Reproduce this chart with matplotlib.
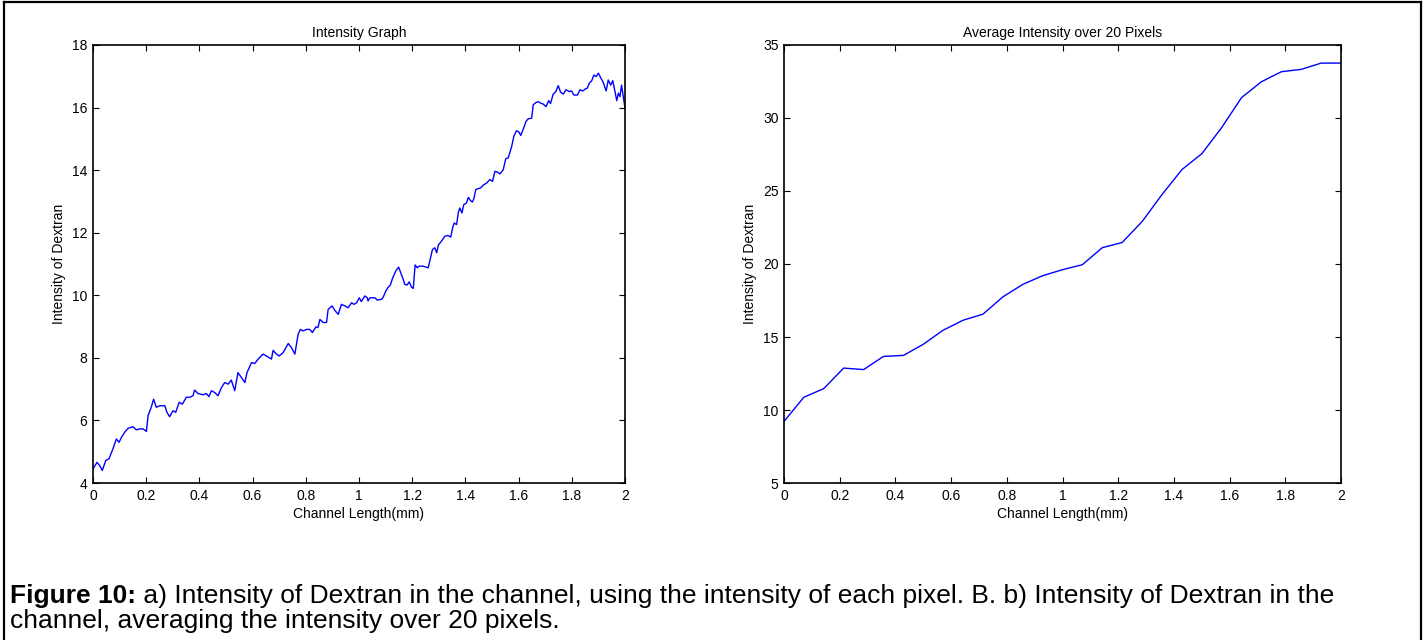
import matplotlib

matplotlib.use("Agg")
import matplotlib.pyplot as plt
from matplotlib.lines import Line2D
from matplotlib.ticker import FuncFormatter
from matplotlib.transforms import offset_copy

plt.rcParams["font.family"] = ["Liberation Sans", "DejaVu Sans"]

# (a) intensity of each pixel
pixel_x = [
    0.000, 0.015, 0.025, 0.035, 0.048, 0.060, 0.075, 0.088, 0.098, 0.107,
    0.119, 0.132, 0.144, 0.150, 0.163, 0.176, 0.188, 0.201, 0.207, 0.219,
    0.228, 0.238, 0.251, 0.270, 0.278, 0.288, 0.301, 0.311, 0.324, 0.336,
    0.351, 0.364, 0.376, 0.382, 0.395, 0.414, 0.426, 0.436, 0.445, 0.458,
    0.470, 0.483, 0.495, 0.508, 0.520, 0.533, 0.545, 0.558, 0.571, 0.579,
    0.596, 0.608, 0.621, 0.639, 0.652, 0.671, 0.677, 0.690, 0.700, 0.715,
    0.734, 0.746, 0.759, 0.771, 0.780, 0.790, 0.803, 0.815, 0.825, 0.838,
    0.846, 0.853, 0.865, 0.878, 0.884, 0.899, 0.909, 0.922, 0.934, 0.947,
    0.959, 0.972, 0.981, 0.991, 1.001, 1.009, 1.022, 1.031, 1.034, 1.041,
    1.060, 1.068, 1.085, 1.091, 1.101, 1.110, 1.118, 1.126, 1.139, 1.149,
    1.157, 1.166, 1.172, 1.181, 1.189, 1.197, 1.204, 1.211, 1.219, 1.226,
    1.241, 1.260, 1.266, 1.276, 1.285, 1.292, 1.298, 1.310, 1.323, 1.335,
    1.345, 1.352, 1.358, 1.367, 1.373, 1.379, 1.387, 1.394, 1.404, 1.411,
    1.419, 1.426, 1.432, 1.439, 1.448, 1.457, 1.467, 1.480, 1.492, 1.502,
    1.511, 1.520, 1.530, 1.542, 1.552, 1.561, 1.574, 1.582, 1.592, 1.601,
    1.608, 1.618, 1.628, 1.636, 1.649, 1.655, 1.665, 1.674, 1.683, 1.693,
    1.703, 1.713, 1.720, 1.730, 1.740, 1.749, 1.758, 1.768, 1.778, 1.791,
    1.799, 1.808, 1.821, 1.831, 1.841, 1.850, 1.858, 1.866, 1.875, 1.883,
    1.891, 1.900, 1.908, 1.918, 1.929, 1.937, 1.946, 1.954, 1.962, 1.969,
    1.975, 1.981, 1.987, 2.000,
]
pixel_y = [
    4.45, 4.66, 4.56, 4.40, 4.72, 4.77, 5.09, 5.41, 5.30, 5.46,
    5.62, 5.75, 5.78, 5.80, 5.70, 5.73, 5.73, 5.65, 6.15, 6.42,
    6.68, 6.42, 6.47, 6.47, 6.26, 6.12, 6.31, 6.26, 6.58, 6.52,
    6.74, 6.74, 6.79, 6.97, 6.86, 6.82, 6.86, 6.76, 6.95, 6.89,
    6.79, 7.05, 7.21, 7.16, 7.29, 6.95, 7.53, 7.37, 7.21, 7.53,
    7.85, 7.82, 7.96, 8.12, 8.06, 7.96, 8.24, 8.12, 8.06, 8.17,
    8.46, 8.33, 8.12, 8.75, 8.91, 8.86, 8.91, 8.91, 8.81, 8.99,
    8.97, 9.23, 9.13, 9.13, 9.55, 9.66, 9.52, 9.39, 9.71, 9.66,
    9.60, 9.76, 9.71, 9.76, 9.92, 9.80, 9.98, 9.92, 9.82, 9.92,
    9.92, 9.85, 9.87, 9.94, 10.14, 10.26, 10.33, 10.54, 10.79, 10.90,
    10.72, 10.51, 10.35, 10.33, 10.43, 10.26, 10.22, 10.97, 10.88, 10.93,
    10.93, 10.88, 11.09, 11.46, 11.52, 11.36, 11.60, 11.73, 11.89, 11.91,
    11.86, 12.16, 12.31, 12.26, 12.63, 12.79, 12.63, 12.90, 12.95, 13.13,
    13.03, 12.98, 13.09, 13.38, 13.41, 13.43, 13.52, 13.59, 13.70, 13.64,
    13.96, 13.94, 13.88, 14.01, 14.37, 14.39, 14.76, 15.08, 15.26, 15.22,
    15.11, 15.32, 15.56, 15.64, 15.66, 16.09, 16.16, 16.19, 16.14, 16.11,
    16.03, 16.22, 16.13, 16.43, 16.51, 16.70, 16.49, 16.43, 16.57, 16.51,
    16.53, 16.40, 16.40, 16.57, 16.53, 16.59, 16.62, 16.78, 16.86, 17.04,
    16.99, 17.10, 16.96, 16.81, 16.53, 16.88, 16.72, 16.86, 16.51, 16.22,
    16.46, 16.35, 16.72, 15.98,
]

# (b) averaged over 20 pixels
avg_x = [
    0.000, 0.071, 0.143, 0.214, 0.286, 0.357, 0.429, 0.500, 0.571, 0.643,
    0.714, 0.786, 0.857, 0.929, 1.000, 1.071, 1.143, 1.214, 1.286, 1.357,
    1.429, 1.500, 1.571, 1.643, 1.714, 1.786, 1.857, 1.929, 2.000,
]
avg_y = [
    9.22, 10.87, 11.47, 12.87, 12.77, 13.67, 13.74, 14.50, 15.46, 16.15,
    16.56, 17.75, 18.60, 19.20, 19.61, 19.95, 21.12, 21.47, 22.91, 24.75,
    26.47, 27.55, 29.33, 31.40, 32.48, 33.17, 33.33, 33.76, 33.76,
]

x_ticks = [0, 0.2, 0.4, 0.6, 0.8, 1.0, 1.2, 1.4, 1.6, 1.8, 2.0]
left_yticks = [4, 6, 8, 10, 12, 14, 16, 18]
right_yticks = [5, 10, 15, 20, 25, 30, 35]


def fmt(v, _pos):
    return f"{v:g}"


def style_axes(ax, title, yticks):
    ax.set_xlim(0, 2)
    ax.set_ylim(yticks[0], yticks[-1])
    ax.set_xticks(x_ticks)
    ax.set_yticks(yticks)
    ax.xaxis.set_major_formatter(FuncFormatter(fmt))
    ax.tick_params(direction="in", top=True, right=True, length=4,
                   width=0.8, labelsize=10, pad=4)
    for sp in ax.spines.values():
        sp.set_linewidth(1.2)
    ax.set_title(title, fontsize=10, pad=6)
    ax.set_xlabel("Channel Length(mm)", fontsize=10, labelpad=3)
    ax.set_ylabel("Intensity of Dextran", fontsize=10, labelpad=4)


fig = plt.figure(figsize=(14.26, 6.4), dpi=100)
ax1 = fig.add_axes([0.0652, 0.2453, 0.3731, 0.6844])
ax2 = fig.add_axes([0.5498, 0.2453, 0.3906, 0.6844])

ax1.plot(pixel_x, pixel_y, color="#0000ff", lw=1.0)
ax2.plot(avg_x, avg_y, color="#0000ff", lw=1.0)

style_axes(ax1, "Intensity Graph", left_yticks)
style_axes(ax2, "Average Intensity over 20 Pixels", right_yticks)

# caption: bold lead-in, then plain text right after it
cap_size = 19
y1 = 1 - 596 / 640
y2 = 1 - 621 / 640
lead = fig.text(0.007, y1, "Figure 10:", fontsize=cap_size, fontweight="bold",
                va="center", ha="left")
renderer = fig.canvas.get_renderer()
lead_w = lead.get_window_extent(renderer).width
fig.text(0.007, y1,
         " a) Intensity of Dextran in the channel, using the intensity of each "
         "pixel. B. b) Intensity of Dextran in the",
         fontsize=cap_size, va="center", ha="left",
         transform=offset_copy(fig.transFigure, fig=fig, x=lead_w, y=0,
                               units="dots"))
fig.text(0.007, y2, "channel, averaging the intensity over 20 pixels.",
         fontsize=cap_size, va="center", ha="left")

# page frame (left, top, right)
for xs, ys in [([0.0025, 0.0025], [0, 0.997]),
               ([0.0025, 0.9965], [0.997, 0.997]),
               ([0.9965, 0.9965], [0, 0.997])]:
    fig.add_artist(Line2D(xs, ys, color="black", lw=1.6))

fig.savefig("out.png", dpi=100)
